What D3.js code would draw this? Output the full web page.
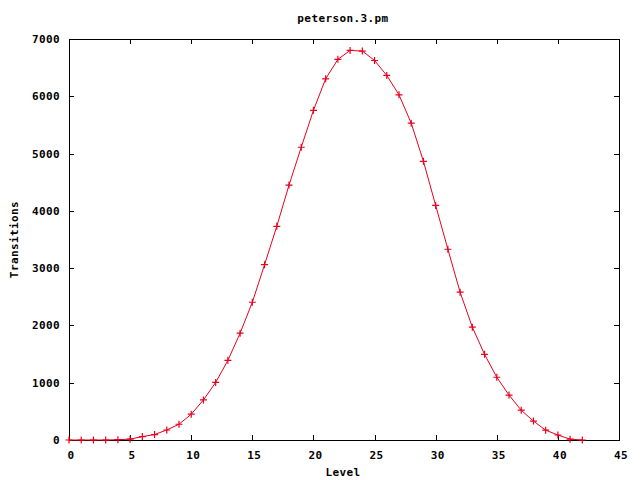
<!DOCTYPE html>
<html>
<head>
<meta charset="utf-8">
<script src="https://cdn.jsdelivr.net/npm/d3@7"></script>
<style>
  html, body { margin: 0; padding: 0; background: #fff; }
  svg text { font-family: "DejaVu Sans Mono", "Liberation Mono", monospace; font-weight: bold; font-size: 11px; letter-spacing: 0.4px; fill: #000; }
</style>
</head>
<body>
<svg id="chart" width="640" height="480"></svg>
<script>
const title = "peterson.3.pm";
const xLabel = "Level";
const yLabel = "Transitions";
const levels = d3.range(0, 43);
const transitions = [0, 0, 0, 0, 5, 15, 60, 95, 175, 275, 450, 700, 1005, 1390, 1865, 2405, 3060, 3730, 4450, 5110, 5755, 6305, 6645, 6800, 6790, 6625, 6365, 6025, 5530, 4865, 4095, 3330, 2580, 1970, 1495, 1095, 785, 520, 330, 172, 87, 15, 0];
const xTicks = [0, 5, 10, 15, 20, 25, 30, 35, 40, 45];
const yTicks = [0, 1000, 2000, 3000, 4000, 5000, 6000, 7000];

const data = levels.map((v, i) => ({x: v, y: transitions[i]}));

const svg = d3.select("#chart");
const pLeft = 69, pRight = 619, pTop = 39, pBottom = 440;
const x = d3.scaleLinear().domain([0, 45]).range([pLeft, pRight]);
const y = d3.scaleLinear().domain([0, 7000]).range([pBottom, pTop]);
const tl = 5;

const gx = svg.append("g").attr("transform", `translate(0,${pBottom})`)
  .call(d3.axisBottom(x).tickValues(xTicks).tickSize(-tl).tickPadding(11).tickFormat(d3.format("d")));
const gxt = svg.append("g").attr("transform", `translate(0,${pTop})`)
  .call(d3.axisTop(x).tickValues(xTicks).tickSize(-tl).tickFormat(""));
const gy = svg.append("g").attr("transform", `translate(${pLeft},0)`)
  .call(d3.axisLeft(y).tickValues(yTicks).tickSize(-tl).tickPadding(9).tickFormat(d3.format("d")));
const gyr = svg.append("g").attr("transform", `translate(${pRight},0)`)
  .call(d3.axisRight(y).tickValues(yTicks).tickSize(-tl).tickFormat(""));
[gx, gxt, gy, gyr].forEach(g => {
  g.select(".domain").remove();
  g.selectAll(".tick line").attr("stroke", "#000").attr("shape-rendering", "crispEdges");
  g.selectAll("text").attr("font-family", null).attr("font-size", null);
});
gx.selectAll(".tick text").attr("dx", "1.5");

svg.append("rect").attr("x", pLeft).attr("y", pTop)
  .attr("width", pRight - pLeft).attr("height", pBottom - pTop)
  .attr("fill", "none").attr("stroke", "#000").attr("stroke-width", 1)
  .attr("shape-rendering", "crispEdges");

svg.append("path").datum(data)
  .attr("fill", "none").attr("stroke", "#e8001c").attr("stroke-width", 1)
  .attr("d", d3.line().x(d => x(d.x)).y(d => y(d.y)));

const m = 3.5;
svg.append("g").selectAll("path.pt").data(data).join("path")
  .attr("class", "pt")
  .attr("fill", "none").attr("stroke", "#e8001c").attr("stroke-width", 1.2)
  .attr("d", d => {
    const cx = x(d.x), cy = y(d.y);
    return `M${cx - m},${cy}H${cx + m}M${cx},${cy - m}V${cy + m}`;
  });

svg.append("text").attr("x", (pLeft + pRight) / 2 - 1).attr("y", 22)
  .attr("text-anchor", "middle").text(title);
svg.append("text").attr("x", (pLeft + pRight) / 2 - 1).attr("y", 476)
  .attr("text-anchor", "middle").text(xLabel);
svg.append("text").attr("transform", `translate(18,${(pTop + pBottom) / 2}) rotate(-90)`)
  .attr("text-anchor", "middle").text(yLabel);
</script>
</body>
</html>
